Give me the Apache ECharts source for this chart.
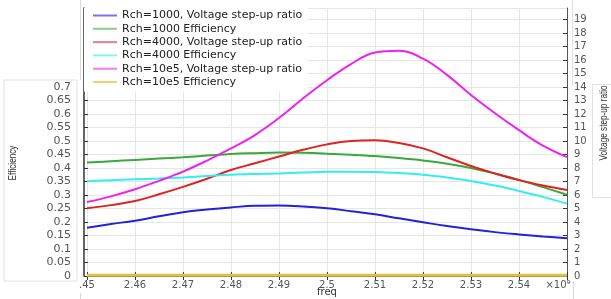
<!DOCTYPE html>
<html><head><meta charset="utf-8">
<script src="https://cdn.jsdelivr.net/npm/echarts@6/dist/echarts.min.js"></script>
<style>html,body{margin:0;padding:0;background:#fff}#c{width:611px;height:299px}</style>
</head><body><div id="c"></div>
<script>
const freq = [2.45,2.455,2.46,2.465,2.47,2.475,2.48,2.485,2.49,2.495,2.50,2.505,2.51,2.515,2.52,2.525,2.53,2.535,2.54,2.545,2.55];
const volt1000 = [3.58,3.85,4.10,4.42,4.72,4.92,5.08,5.20,5.22,5.15,5.01,4.80,4.57,4.27,3.98,3.70,3.46,3.25,3.08,2.93,2.80];
const eff1000  = [0.420,0.425,0.430,0.435,0.440,0.446,0.452,0.455,0.457,0.456,0.453,0.449,0.444,0.437,0.428,0.416,0.400,0.379,0.356,0.329,0.301];
const volt4000 = [5.01,5.25,5.55,6.05,6.60,7.20,7.85,8.35,8.85,9.35,9.75,10.00,10.05,9.85,9.45,8.80,8.15,7.60,7.10,6.70,6.37];
const eff4000  = [0.351,0.355,0.358,0.361,0.365,0.370,0.375,0.378,0.380,0.383,0.386,0.386,0.385,0.381,0.375,0.365,0.352,0.335,0.315,0.293,0.268];
const volt10e5 = [5.48,5.90,6.42,7.05,7.73,8.55,9.45,10.44,11.70,13.15,14.50,15.70,16.55,16.68,16.10,14.90,13.40,12.05,10.80,9.65,8.80];
const eff10e5  = [0.003,0.003,0.003,0.003,0.003,0.003,0.003,0.003,0.003,0.003,0.003,0.003,0.003,0.003,0.003,0.003,0.003,0.003,0.003,0.003,0.003];
const seriesNames = ['Rch=1000, Voltage step-up ratio','Rch=1000 Efficiency','Rch=4000, Voltage step-up ratio','Rch=4000 Efficiency','Rch=10e5, Voltage step-up ratio','Rch=10e5 Efficiency'];
const colors = ['#2222dd','#3aa83a','#e02222','#33eeee','#ee22ee','#e6c040'];
const legendColors = ['#7777e0','#88cc88','#e88080','#88f2f2','#f080f0','#f0d070'];

function pts(ys){ return freq.map((f,i)=>[f, ys[i]]); }
const dataSets = [volt1000, eff1000, volt4000, eff4000, volt10e5, eff10e5];
const axisIdx = [1,0,1,0,1,0];

const chart = echarts.init(document.getElementById('c'), null, {renderer:'canvas'});
const font = 'DejaVu Sans';
const tickStyle = {show:true, inside:true, length:4, lineStyle:{color:'#333', width:1}};

chart.setOption({
  animation:false,
  backgroundColor:'#fff',
  grid:{left:87, right:44, top:8, bottom:23, containLabel:false},
  legend:{
    orient:'vertical', left:84, top:8, padding:[1,6,3,9],
    backgroundColor:'#fff',
    icon:'path://M0,0H24V2H0Z',
    itemWidth:24, itemHeight:2, itemGap:0.3,
    textStyle:{fontFamily:font, fontSize:11, color:'#222', lineHeight:13},
    data:seriesNames.map((n,i)=>({name:n, itemStyle:{color:legendColors[i]}}))
  },
  xAxis:[{
    type:'value', min:2.45, max:2.55, interval:0.01, position:'bottom',
    axisLine:{show:true, lineStyle:{color:'#333', width:1}},
    axisTick:tickStyle,
    splitLine:{show:true, lineStyle:{color:'#e6e6e6', width:1}},
    axisLabel:{fontFamily:font, fontSize:10, color:'#555', margin:4,
      formatter:function(v){ const s=v.toFixed(2); if(s==='2.45') return '.45'; if(s==='2.55') return '{r|×10⁹}'; return String(parseFloat(s)); },
      rich:{r:{fontFamily:font, fontSize:10, color:'#555', padding:[0,18,0,0]}}
    }
  },{
    type:'value', min:2.45, max:2.55, interval:0.01, position:'top',
    axisLine:{show:true, lineStyle:{color:'#333', width:1}},
    axisTick:tickStyle, axisLabel:{show:false}, splitLine:{show:false}
  }],
  yAxis:[{
    type:'value', min:0, max:0.9925, interval:0.05, position:'left', offset:3,
    axisLine:{show:true, lineStyle:{color:'#333', width:1.5}},
    axisTick:tickStyle,
    splitLine:{show:true, lineStyle:{color:'#e6e6e6', width:1}},
    axisLabel:{fontFamily:font, fontSize:11, color:'#555', margin:13,
      formatter:function(v){ if(v>0.7001) return ''; return String(parseFloat(v.toFixed(2))); }}
  },{
    type:'value', min:0, max:19.85, interval:1, position:'right',
    axisLine:{show:true, lineStyle:{color:'#555', width:1}},
    axisTick:tickStyle, splitLine:{show:false},
    axisLabel:{fontFamily:font, fontSize:10, color:'#555', margin:7, showMaxLabel:false,
      formatter:function(v){ if(v>19.5) return ''; return String(Math.round(v)); }}
  }],
  series: seriesNames.map((n,i)=>({
    name:n, type:'line', xAxisIndex:0, yAxisIndex:axisIdx[i],
    data:pts(dataSets[i]), smooth:0.4, symbol:'none', showSymbol:false,
    lineStyle:{color:colors[i], width: i===5 ? 3 : 2},
    itemStyle:{color:colors[i]}, z: i===5 ? 5 : 3
  })),
  graphic:[
    {type:'text', x:13, y:163, rotation:Math.PI/2, scaleX:0.82,
      style:{text:'Efficiency', fontFamily:'Liberation Sans, Arial, sans-serif', fontSize:10, fill:'#333', align:'center', verticalAlign:'middle'}},
    {type:'text', x:604, y:123, rotation:Math.PI/2, scaleX:0.82,
      style:{text:'Voltage step-up ratio', fontFamily:'Liberation Sans, Arial, sans-serif', fontSize:10, fill:'#333', align:'center', verticalAlign:'middle'}},
    {type:'text', x:327, y:292,
      style:{text:'freq', fontFamily:font, fontSize:10, fill:'#333', align:'center', verticalAlign:'middle'}},
    {type:'polyline', shape:{points:[[4,80],[4,281],[77,281],[77,80],[4,80]]}, style:{stroke:'#e2e2e2', fill:null, lineWidth:1}, silent:true},
    {type:'line', shape:{x1:80.5,y1:0,x2:80.5,y2:80}, style:{stroke:'#d8d8d8', lineWidth:1}},
    {type:'line', shape:{x1:80.5,y1:293,x2:80.5,y2:299}, style:{stroke:'#d8d8d8', lineWidth:1}},
    {type:'line', shape:{x1:572.5,y1:0,x2:572.5,y2:85}, style:{stroke:'#e2e2e2', lineWidth:1}},
    {type:'polyline', shape:{points:[[611,84.5],[592.5,84.5],[592.5,197.5],[611,197.5]]}, style:{stroke:'#e2e2e2', fill:null, lineWidth:1}},
    {type:'line', shape:{x1:573.5,y1:282,x2:573.5,y2:299}, style:{stroke:'#d8d8d8', lineWidth:1}}
  ]
});
</script></body></html>
